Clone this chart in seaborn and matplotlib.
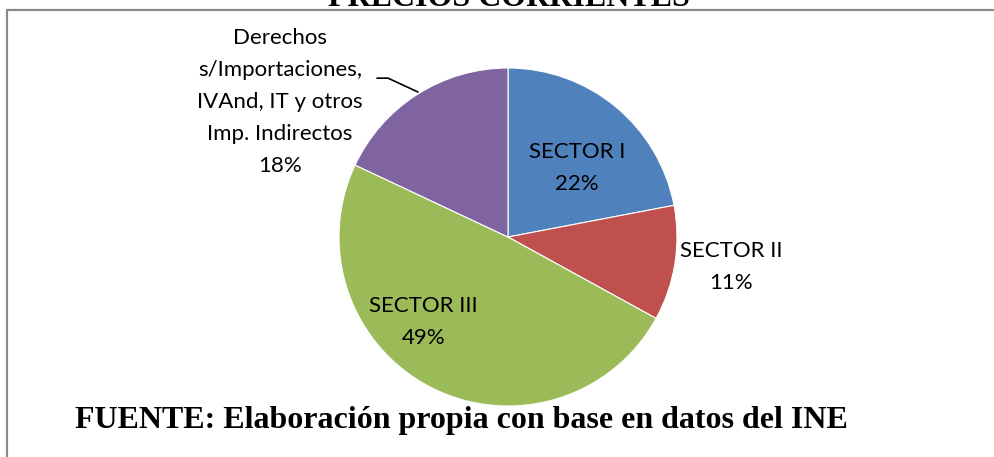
import matplotlib
matplotlib.use("Agg")
import matplotlib.pyplot as plt
from matplotlib.lines import Line2D
import seaborn as sns

# data
sectors = ["SECTOR I", "SECTOR II", "SECTOR III",
           "Derechos\ns/Importaciones,\nIVAnd, IT y otros\nImp. Indirectos"]
shares = [22, 11, 49, 18]
colors = ["#4F81BD", "#C0504D", "#9BBB59", "#8064A2"]
title = "PRECIOS CORRIENTES"
source = "FUENTE: Elaboración propia con base en datos del INE"

# label anchors in pie units (radius = 1)
label_pos = [(0.41, 0.41), (1.32, -0.18), (-0.50, -0.50), (-1.35, 0.80)]

sns.set_style("white")
plt.rcParams["font.family"] = ["Lato", "DejaVu Sans"]
plt.rcParams["text.color"] = "black"

W, H = 995, 457
fig = plt.figure(figsize=(W / 100, H / 100), dpi=100)

cx, cy, r = 508, 237, 169
ax = fig.add_axes([(cx - r) / W, (H - cy - r) / H, 2 * r / W, 2 * r / H])
ax.pie(shares, colors=colors, startangle=90, counterclock=False,
       wedgeprops=dict(edgecolor="white", linewidth=0.8))
ax.set_xlim(-1, 1)
ax.set_ylim(-1, 1)
ax.set_aspect("equal")
ax.axis("off")

for name, val, (x, y) in zip(sectors, shares, label_pos):
    ax.text(x, y, f"{name}\n{val}%", ha="center", va="center",
            fontsize=16, linespacing=1.75, color="black", clip_on=False)

# leader line for the last label
ax.add_line(Line2D([-0.775, -0.71, -0.533], [0.94, 0.94, 0.858],
                   color="black", linewidth=1.2, clip_on=False))

# outer frame (top and left edges only visible)
fig.add_artist(Line2D([7 / W, 1], [1 - 10 / H, 1 - 10 / H],
                      transform=fig.transFigure, color="#8a8a8a", linewidth=1.6))
fig.add_artist(Line2D([7 / W, 7 / W], [0, 1 - 10 / H],
                      transform=fig.transFigure, color="#8a8a8a", linewidth=1.6))

# title is cut off at the top edge, as in the reference
fig.text(509 / W, 1 - 6 / H, title, ha="center", va="baseline", color="black",
         family="Liberation Serif", weight="bold", fontsize=23)
fig.text(75 / W, 1 - 428 / H, source, ha="left", va="baseline", color="black",
         family="Liberation Serif", weight="bold", fontsize=23)

fig.savefig("out.png", dpi=100, facecolor="white")
